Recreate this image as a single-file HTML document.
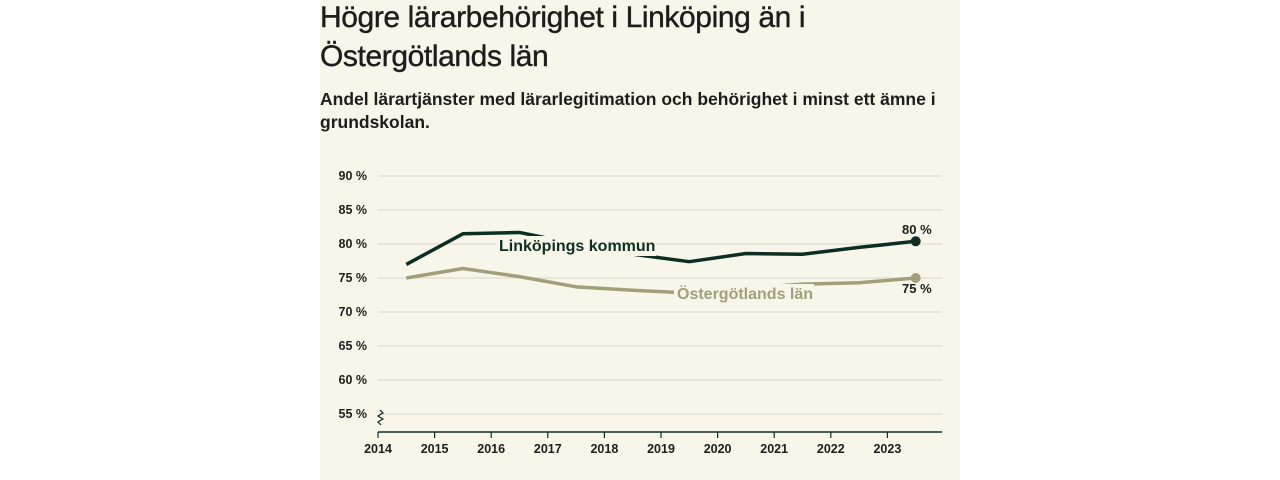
<!DOCTYPE html>
<html><head><meta charset="utf-8"><style>
body{margin:0;width:1280px;height:480px;background:#fff;overflow:hidden;font-family:"Liberation Sans",sans-serif}
#panel{position:absolute;left:320px;top:0;width:640px;height:480px;background:#f8f6eb}
h1{position:absolute;left:320px;top:-2px;margin:0;font-size:30px;font-weight:normal;line-height:39px;color:#1d1d1b;width:640px;letter-spacing:-0.4px;-webkit-text-stroke:0.4px #1d1d1b}
h2{position:absolute;left:320px;top:88px;margin:0;font-size:17.5px;font-weight:bold;line-height:23px;color:#1d1d1b;width:640px}
svg{position:absolute;left:0;top:0}
</style></head><body>
<div id="panel"></div>
<h1>Högre lärarbehörighet i Linköping än i Östergötlands län</h1>
<h2>Andel lärartjänster med lärarlegitimation och behörighet i minst ett ämne i grundskolan.</h2>
<svg id="c" width="1280" height="480"></svg>
<script>
const years=[2014.5,2015.5,2016.5,2017.5,2018.5,2019.5,2020.5,2021.5,2022.5,2023.5];
const linkoping=[77,81.5,81.7,80,78.5,77.4,78.6,78.5,79.5,80.4];
const lan=[75,76.4,75.2,73.7,73.2,72.8,73.5,74.1,74.3,75];
const yTicks=[55,60,65,70,75,80,85,90];
const xTicks=[2014,2015,2016,2017,2018,2019,2020,2021,2022,2023];
const NS="http://www.w3.org/2000/svg",svg=document.getElementById('c');
const X=v=>378+(v-2014)*56.6, Y=v=>176+(90-v)*6.8;
function mk(t,a,p){const e=document.createElementNS(NS,t);for(const k in a)e.setAttribute(k,a[k]);(p||svg).appendChild(e);return e;}
yTicks.forEach(v=>{
 const g=mk('line',{x1:378,x2:942,y1:Y(v),y2:Y(v),stroke:'#e3e1d8','stroke-width':1.5});
 
 
 const t=mk('text',{x:367,y:Y(v)+4,'text-anchor':'end','font-size':12.5,'font-weight':'bold',fill:'#1d1d1b'});t.textContent=v+' %';
 
 
});
const ax=mk('line',{x1:378,x2:942,y1:432,y2:432,stroke:'#0d2e24','stroke-width':1.5});


mk('path',{d:'M380 410 l3 3 -5 3 5 3 -5 3 3 3',fill:'none',stroke:'#0d2e24','stroke-width':1.2});
xTicks.forEach(v=>{
 mk('line',{x1:X(v),x2:X(v),y1:432,y2:438,stroke:'#0d2e24','stroke-width':1.2});
 const t=mk('text',{x:X(v),y:453,'text-anchor':'middle','font-size':12.5,'font-weight':'bold',fill:'#1d1d1b'});t.textContent=v;
 
 
});
function series(vals,col,name){
 const p=mk('polyline',{points:vals.map((v,i)=>X(years[i])+','+Y(v)).join(' '),fill:'none',stroke:col,'stroke-width':3.5,'stroke-linejoin':'round'});
 
 
 const n=vals.length-1;
 const d=mk('circle',{cx:X(years[n]),cy:Y(vals[n]),r:5,fill:col});
 
 
}
series(linkoping,'#0d2e24','linkoping');
series(lan,'#a19e7a','lan');
function label(txt,x,y,col,size,name,bg,w){
 if(bg){mk('rect',{x:x-3,y:y-15,width:w,height:20,fill:'#f8f6eb'});}
 const t=mk('text',{x:x,y:y,'font-size':size,'font-weight':'bold',fill:col});t.textContent=txt;
 
 
}
label('Linköpings kommun',499,251,'#0d2e24',16,'linkoping-label',true,160);
label('Östergötlands län',677,299,'#a19e7a',16,'lan-label',true,140);
label('80 %',902,234,'#1d1d1b',13,'linkoping-value-label');
label('75 %',902,293,'#1d1d1b',13,'lan-value-label');
</script>
</body></html>
